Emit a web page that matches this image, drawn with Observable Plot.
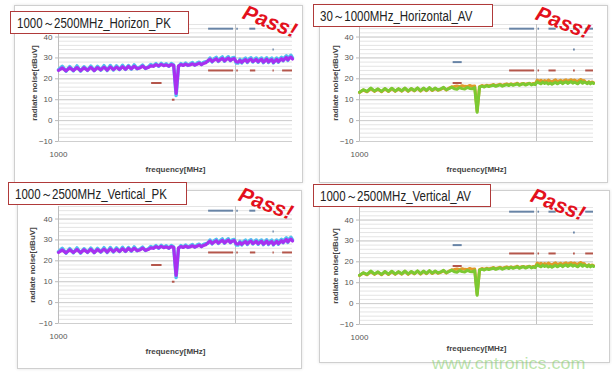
<!DOCTYPE html>
<html><head><meta charset="utf-8">
<script src="https://cdn.jsdelivr.net/npm/d3@7"></script>
<script src="https://cdn.jsdelivr.net/npm/@observablehq/plot@0.6"></script>
<style>
body{margin:0;width:612px;height:372px;background:#fff;position:relative;overflow:hidden;font-family:"Liberation Sans",Arial,sans-serif;}
.card{position:absolute;border:1px solid #cfcfcf;box-shadow:0 0 3px rgba(0,0,0,0.12);background:#fff;}
.panel{position:absolute;width:306px;height:186px;}
.panel svg [aria-label="y-axis label"] text,.panel svg [aria-label="x-axis label"] text{font-weight:bold;fill:#444;}
.title{position:absolute;background:#fff;border:1px solid #b03a3a;font-size:14px;color:#222;height:23px;line-height:22px;padding:0 0 0 6px;white-space:nowrap;box-sizing:border-box;overflow:hidden;}
.title span{display:inline-block;transform:scaleX(0.82);transform-origin:0 50%;}
.pass{position:absolute;color:#e3101c;font-weight:bold;font-style:italic;font-size:21px;line-height:1;transform:translate(-50%,-50%) rotate(21deg);white-space:nowrap;}
.wm{position:absolute;left:432px;top:356px;font-size:16px;line-height:16px;color:rgba(130,205,100,0.55);white-space:nowrap;transform:scaleX(1.12);transform-origin:0 0;}
</style></head>
<body>
<div class="card" style="left:14px;top:5px;width:287px;height:176px"></div>
<div class="card" style="left:319px;top:5px;width:287px;height:176px"></div>
<div class="card" style="left:17px;top:190px;width:283px;height:177px"></div>
<div class="card" style="left:319px;top:190px;width:289px;height:171px"></div>
<div id="p1" class="panel" style="left:0;top:0"></div>
<div id="p2" class="panel" style="left:306px;top:0"></div>
<div id="p3" class="panel" style="left:0;top:186px"></div>
<div id="p4" class="panel" style="left:306px;top:186px"></div>
<div class="title" style="left:10px;top:11px;width:179px"><span>1000～2500MHz_Horizon_PK</span></div>
<div class="title" style="left:313px;top:4px;width:180px"><span>30～1000MHz_Horizontal_AV</span></div>
<div class="title" style="left:8px;top:182px;width:179px"><span>1000～2500MHz_Vertical_PK</span></div>
<div class="title" style="left:313px;top:184px;width:178px"><span>1000～2500MHz_Vertical_AV</span></div>
<div class="pass" style="left:270px;top:21px">Pass!</div>
<div class="pass" style="left:563px;top:22px">Pass!</div>
<div class="pass" style="left:266px;top:203px">Pass!</div>
<div class="pass" style="left:558px;top:204px">Pass!</div>
<div class="wm">www.cntronics.com</div>
<script>
const freqs = [1000,1015,1030,1045,1060,1075,1090,1105,1120,1135,
1150,1165,1180,1195,1210,1225,1240,1255,1270,1285,
1300,1315,1330,1345,1360,1375,1390,1405,1420,1435,
1450,1465,1480,1495,1510,1525,1540,1555,1570,1585,
1600,1615,1630,1645,1660,1675,1690,1705,1720,1735,
1750,1765,1780,1795,1810,1825,1840,1855,1870,1885,
1900,1915,1930,1945,1960,1975,1990,2005,2020,2035,
2050,2065,2080,2095,2110,2125,2140,2155,2170,2185,
2200,2215,2230,2245,2260,2275,2290,2305,2320,2335,
2350,2365,2380,2395,2410,2425,2440,2455,2470,2485,2500];

const pkCyan = [24.3,26.0,23.6,25.9,23.8,26.2,23.7,25.8,24.0,26.1,23.9,26.0,24.1,26.3,24.0,26.4,24.2,26.2,24.4,26.5,
24.5,26.4,24.6,26.7,24.8,25.5,26.6,24.9,25.6,26.9,
26.2,27.3,26.0,27.4,26.4,27.2,26.0,27.3,26.6,12.0,
26.0,27.3,26.5,27.6,26.4,27.2,27.8,26.5,27.5,28.0,
26.9,27.9,28.2,28.4,30.0,28.1,29.6,30.3,28.3,29.8,
30.5,28.4,29.9,30.6,28.7,30.0,30.2,27.6,27.5,29.3,
27.6,29.2,29.9,27.8,29.5,30.1,28.0,29.3,30.0,27.9,
29.4,30.0,27.7,29.2,30.1,27.8,29.3,29.9,27.6,29.1,
30.0,27.9,29.6,30.3,28.6,30.2,31.0,28.8,30.6,31.3,30.0];

const pkPurple = [24.0,25.2,23.8,25.3,24.0,25.4,23.9,25.3,24.1,25.5,24.0,25.4,24.3,25.6,24.2,25.7,24.4,25.6,24.5,25.8,
24.6,25.9,24.8,26.0,24.9,25.2,26.1,25.0,25.4,26.2,
26.0,26.8,26.2,26.9,26.3,26.7,26.1,26.8,26.4,13.0,
26.2,26.8,26.4,27.0,26.5,26.7,27.2,26.6,27.0,27.5,
26.8,27.4,27.7,28.6,29.4,28.3,29.0,29.6,28.5,29.2,
29.8,28.6,29.3,29.9,28.8,29.4,29.7,28.2,28.0,28.8,
27.9,28.6,29.2,28.1,28.9,29.4,28.3,28.7,29.3,28.2,
28.8,29.3,28.0,28.6,29.4,28.1,28.7,29.2,27.9,28.5,
29.3,28.2,28.9,29.6,28.8,29.5,30.2,29.1,29.9,30.4,29.5];

const avOrange = [13.4,14.6,13.8,15.3,14.0,15.0,13.8,15.2,13.9,15.3,14.0,15.1,14.1,15.4,14.0,15.2,14.2,15.5,14.1,15.4,
14.3,15.6,14.4,15.4,14.5,15.0,15.7,14.6,15.6,16.2,
16.3,16.6,16.2,16.7,16.4,16.3,16.8,16.4,16.6,4.5,
16.3,16.8,16.4,16.9,16.6,16.9,17.3,16.7,17.1,17.4,16.8,17.3,17.6,
17.1,17.6,17.2,17.5,17.9,17.2,17.6,17.8,17.3,17.7,17.9,17.4,17.8,17.6,
19.4,18.8,19.3,18.6,19.2,18.7,19.4,18.9,18.5,19.1,19.5,18.7,19.0,19.3,18.6,19.2,19.5,18.8,19.3,19.6,
18.9,19.4,19.0,18.7,19.3,19.7,18.9,19.2,18.4,18.1,18.6,18.0,18.5,18.2];

const avGreen = [13.6,14.8,14.0,15.6,14.2,15.2,14.0,15.4,14.1,15.5,
14.2,15.3,14.3,15.6,14.2,15.4,14.4,15.7,14.3,15.6,
14.5,15.8,14.6,15.6,14.7,15.2,15.9,14.8,15.3,16.0,
15.2,15.0,15.8,15.3,15.1,15.9,15.4,15.2,15.8,4.0,
16.0,16.5,16.1,16.7,16.3,16.6,17.0,16.4,16.8,17.1,16.5,16.9,17.2,
16.8,17.4,16.9,17.2,17.6,16.9,17.3,17.7,17.0,17.4,17.8,17.1,17.5,17.2,
18.6,18.0,17.6,18.4,17.8,18.2,17.5,18.0,17.4,17.9,18.3,17.6,18.1,18.5,17.7,18.2,18.6,17.8,18.3,18.7,
17.9,18.4,18.0,17.6,18.3,18.8,17.9,18.5,18.1,17.7,18.4,17.6,18.2,17.8];

const pkLimitStart = [1800,2010,2115,2316, 1800,2010,2120,2316,2405, 1440, 1562];
const pkLimitEnd   = [1985,2022,2165,2328, 1985,2022,2165,2328,2500, 1500, 1578];
const pkLimitLevel = [44,44,44,34, 24,24,24,24,24, 18, 10];
const pkLimitKind  = ["b","b","b","b","r","r","r","r","r","r","r"];

const avLimitStart = [1443,1800,2012,2100,2312,2425, 2312, 1443,1800,2012,2100,2312,2425];
const avLimitEnd   = [1495,1985,2024,2160,2328,2500, 2328, 1495,1985,2024,2160,2328,2500];
const avLimitLevel = [28,44,44,44,44,44, 34, 18,24,24,24,24,24];
const avLimitKind  = ["b","b","b","b","b","b","b","r","r","r","r","r","r"];

const yTicks = [-10,0,10,20,30,40];
const xTicks = [1000];
const xGrid = [2000];

const limitColor = {b:"#6884a6", r:"#b4564b"};
const rows = arr => freqs.map((f,i)=>({freq:f, v:arr[i]}));
const limits = (s,e,l,k) => s.map((d,i)=>({start:d, end:e[i], level:l[i], kind:k[i]}));

function panel(id, m, series, lim){
  const minor = d3.range(-10, 47, 2);
  const chart = Plot.plot({
    width:306, height:186,
    marginLeft:m.l, marginRight:m.r, marginTop:m.t, marginBottom:m.b,
    style:{background:"transparent", fontFamily:"'Liberation Sans',Arial,sans-serif", fontSize:"8px", color:"#555"},
    x:{type:"log", domain:[1000,2500]},
    y:{domain:[-10,46]},
    marks:[
      Plot.ruleY(minor, {stroke:"#e4e4e4", strokeWidth:1}),
      Plot.ruleY(yTicks, {stroke:"#cfcfcf", strokeWidth:1}),
      Plot.ruleX(xGrid, {stroke:"#c4c4c4", strokeWidth:1}),
      Plot.ruleX(xTicks, {stroke:"#bdbdbd", strokeWidth:1}),
      ...series.map(s => Plot.line(rows(s.data), {x:"freq", y:"v", stroke:s.color, strokeWidth:s.w, strokeLinejoin:"round"})),
      Plot.ruleY(lim, {y:"level", x1:"start", x2:"end", stroke:d=>limitColor[d.kind], strokeWidth:2}),
      Plot.axisY(yTicks, {tickSize:3, tickPadding:3, stroke:"#bbb", label:"radiate noise[dBuV]", labelAnchor:"center", labelOffset:m.yl, labelArrow:"none"}),
      Plot.axisX(xTicks, {tickSize:0, tickPadding:m.tp, tickFormat:d=>String(d), label:"frequency[MHz]", labelAnchor:"center", labelOffset:m.xl, labelArrow:"none"})
    ]
  });
  document.getElementById(id).appendChild(chart);
}

const pkSeries = [{data:pkCyan, color:"#52c3ef", w:3.4}, {data:pkPurple, color:"#a830f0", w:3.2}];
const avSeries = [{data:avOrange, color:"#e09a2a", w:3}, {data:avGreen, color:"#7cc932", w:3}];
const pkLim = limits(pkLimitStart, pkLimitEnd, pkLimitLevel, pkLimitKind);
const avLim = limits(avLimitStart, avLimitEnd, avLimitLevel, avLimitKind);

panel("p1", {l:58, r:14, t:24, b:45, yl:27, tp:10, xl:30}, pkSeries, pkLim);
panel("p2", {l:53, r:19, t:24, b:45, yl:27, tp:10, xl:30}, avSeries, avLim);
panel("p3", {l:58, r:14, t:20, b:49, yl:29, tp:10, xl:30}, pkSeries, pkLim);
panel("p4", {l:53, r:19, t:21, b:48, yl:27, tp:10, xl:26}, avSeries, avLim);
</script>
</body></html>
